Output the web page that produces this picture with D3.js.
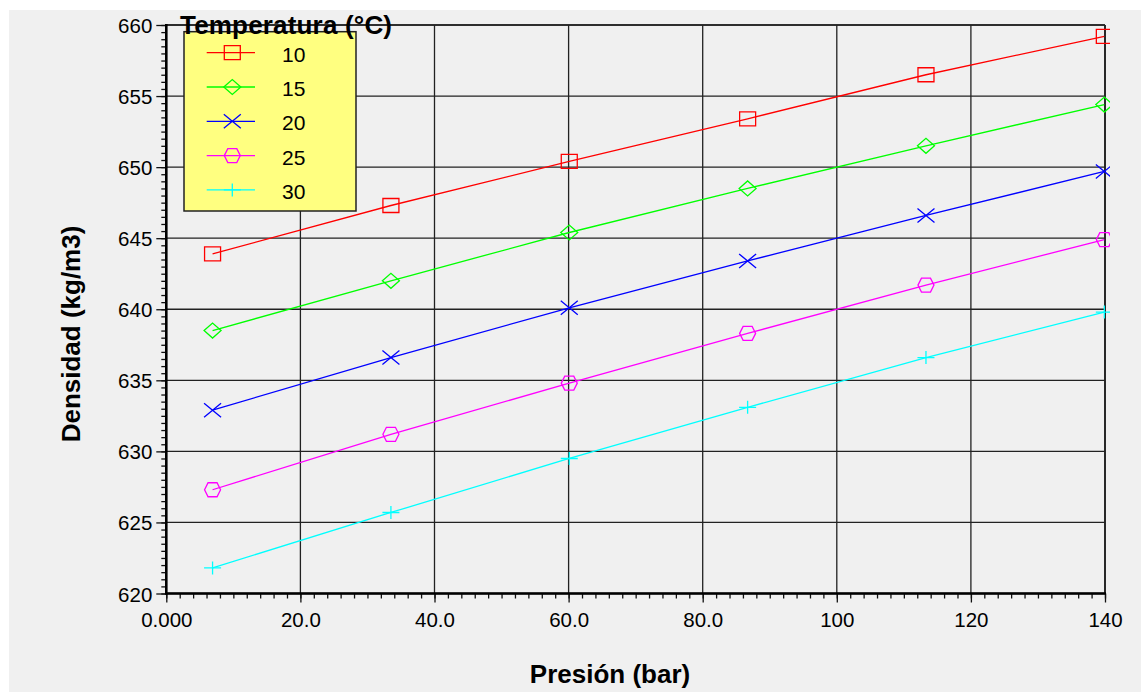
<!DOCTYPE html>
<html>
<head>
<meta charset="utf-8">
<script src="https://cdn.jsdelivr.net/npm/d3@7"></script>
<style>
  html, body { margin: 0; padding: 0; background: #ffffff; }
  svg { display: block; }
  text { font-family: "Liberation Sans", Arial, sans-serif; fill: #000; }
</style>
</head>
<body>
<svg id="chart" width="1141" height="692"></svg>
<script>
// Pressure points (bar)
const pressures = [6.9, 33.5, 60.1, 86.7, 113.3, 139.9];

// Temperature series (°C) and density values (kg/m3)
const temperatures = ["10", "15", "20", "25", "30"];
const dens10 = [643.9, 647.3, 650.4, 653.4, 656.5, 659.2];
const dens15 = [638.5, 642.0, 645.4, 648.5, 651.5, 654.4];
const dens20 = [632.9, 636.6, 640.1, 643.4, 646.6, 649.7];
const dens25 = [627.3, 631.2, 634.8, 638.3, 641.7, 644.9];
const dens30 = [621.8, 625.7, 629.5, 633.1, 636.6, 639.8];

// Axis ticks
const xTicks = [0, 20, 40, 60, 80, 100, 120, 140];
const xTickLabels = ["0.000", "20.0", "40.0", "60.0", "80.0", "100", "120", "140"];
const yTicks = [620, 625, 630, 635, 640, 645, 650, 655, 660];
const yTickLabels = ["620", "625", "630", "635", "640", "645", "650", "655", "660"];

const seriesValues = [dens10, dens15, dens20, dens25, dens30];
const colors = ["#ff0000", "#00ff00", "#0000ff", "#ff00ff", "#00ffff"];
const symbols = ["square", "diamond", "cross", "hexagon", "plus"];

const series = temperatures.map((t, i) => ({
  name: t,
  color: colors[i],
  symbol: symbols[i],
  points: pressures.map((p, j) => ({ x: p, y: seriesValues[i][j] }))
}));

const svg = d3.select("#chart");

// panel background
svg.append("rect").attr("x", 9).attr("y", 10).attr("width", 1132).attr("height", 682)
  .attr("fill", "#f0f0f0");

const x = d3.scaleLinear().domain([0, 140]).range([166.3, 1105]);
const y = d3.scaleLinear().domain([620, 660]).range([593.5, 25]);

const [x0, x1] = x.range();
const [y0, y1] = y.range();

// marker drawing helpers
function markerPath(type) {
  switch (type) {
    case "square": return "M-8,-7H8V7H-8Z";
    case "diamond": return "M-8.5,0L0,-7.5L8.5,0L0,7.5Z";
    case "cross": return "M-8.5,-7L8.5,7M-8.5,7L8.5,-7";
    case "hexagon": return "M-8,0L-4.5,-7H4.5L8,0L4.5,7H-4.5Z";
    case "plus": return "M-8.5,0H8.5M0,-6.5V6.5";
  }
}

// grid
const grid = svg.append("g");
grid.selectAll("line.vx").data(xTicks).join("line")
  .attr("x1", d => x(d)).attr("x2", d => x(d)).attr("y1", y1).attr("y2", y0)
  .attr("stroke", "#222").attr("stroke-width", 1.3);
grid.selectAll("line.hy").data(yTicks).join("line")
  .attr("x1", x0).attr("x2", x1).attr("y1", d => y(d)).attr("y2", d => y(d))
  .attr("stroke", "#222").attr("stroke-width", 1.3);

// axes: minor + major ticks
const xMinor = d3.range(0, 140.01, 2);
const yMinor = d3.range(620, 660.01, 0.5);

const xAxisMinor = d3.axisBottom(x).tickValues(xMinor).tickSize(5).tickFormat("");
const xAxisMajor = d3.axisBottom(x).tickValues(xTicks).tickSize(9)
  .tickFormat((d, i) => xTickLabels[i]).tickPadding(6);
const yAxisMinor = d3.axisLeft(y).tickValues(yMinor).tickSize(5).tickFormat("");
const yAxisMajor = d3.axisLeft(y).tickValues(yTicks).tickSize(10)
  .tickFormat((d, i) => yTickLabels[i]).tickPadding(4);

function styleAxis(g) {
  g.select(".domain").remove();
  g.selectAll(".tick line").attr("stroke", "#111").attr("stroke-width", 1.3);
  g.selectAll(".tick text").attr("font-size", "20.5px").attr("fill", "#111")
    .style("font-family", '"Liberation Sans", Arial, sans-serif');
}

svg.append("g").attr("transform", `translate(0,${y0})`).call(xAxisMinor).call(styleAxis);
const gx = svg.append("g").attr("transform", `translate(0,${y0})`).call(xAxisMajor).call(styleAxis);
gx.selectAll(".tick text").attr("dy", null).attr("y", 33);
svg.append("g").attr("transform", `translate(${x0},0)`).call(yAxisMinor).call(styleAxis);
const gy = svg.append("g").attr("transform", `translate(${x0},0)`).call(yAxisMajor).call(styleAxis);
gy.selectAll(".tick text").attr("dy", null).attr("y", 7.5).attr("x", -14);

// frame
svg.append("line").attr("x1", x0).attr("x2", x1).attr("y1", y1).attr("y2", y1)
  .attr("stroke", "#222").attr("stroke-width", 1.4);
svg.append("line").attr("x1", x1).attr("x2", x1).attr("y1", y1).attr("y2", y0)
  .attr("stroke", "#222").attr("stroke-width", 1.8);
svg.append("line").attr("x1", x0 - 1).attr("x2", x1 + 1).attr("y1", y0).attr("y2", y0)
  .attr("stroke", "#000").attr("stroke-width", 2.6);
svg.append("line").attr("x1", x0).attr("x2", x0).attr("y1", y1 - 1).attr("y2", y0 + 1)
  .attr("stroke", "#000").attr("stroke-width", 2.6);

// clip for data marks
svg.append("defs").append("clipPath").attr("id", "plotclip")
  .append("rect").attr("x", x0).attr("y", y1 - 10).attr("width", x1 - x0 + 5).attr("height", y0 - y1 + 10);

const line = d3.line().x(d => x(d.x)).y(d => y(d.y));
const data = svg.append("g").attr("clip-path", "url(#plotclip)");

series.forEach(s => {
  data.append("path").datum(s.points).attr("d", line)
    .attr("fill", "none").attr("stroke", s.color).attr("stroke-width", 1.3);
  data.selectAll(null).data(s.points).join("path")
    .attr("transform", d => `translate(${x(d.x)},${y(d.y)})`)
    .attr("d", markerPath(s.symbol))
    .attr("fill", "none").attr("stroke", s.color).attr("stroke-width", 1.3);
});

// legend
const legend = svg.append("g");
legend.append("rect").attr("x", 184).attr("y", 31.7).attr("width", 172).attr("height", 179.3)
  .attr("fill", "#ffff80").attr("stroke", "#222").attr("stroke-width", 1.5);
series.forEach((s, i) => {
  const cy = 52.7 + i * 34.3;
  legend.append("line").attr("x1", 206.7).attr("x2", 255).attr("y1", cy).attr("y2", cy)
    .attr("stroke", s.color).attr("stroke-width", 1.3);
  legend.append("path").attr("transform", `translate(232.3,${cy})`)
    .attr("d", markerPath(s.symbol))
    .attr("fill", "none").attr("stroke", s.color).attr("stroke-width", 1.3);
  legend.append("text").attr("x", 282).attr("y", cy + 9)
    .attr("font-size", "21px").attr("fill", "#111").text(s.name);
});
legend.append("text").attr("x", 180).attr("y", 33.5)
  .attr("font-size", "26px").attr("font-weight", "bold").attr("textLength", 212)
  .text("Temperatura (°C)");

// axis titles
svg.append("text").attr("x", 610).attr("y", 683).attr("text-anchor", "middle")
  .attr("font-size", "26px").attr("font-weight", "bold").text("Presión (bar)");
svg.append("text").attr("transform", "translate(80,334) rotate(-90)").attr("text-anchor", "middle")
  .attr("font-size", "26px").attr("font-weight", "bold").text("Densidad (kg/m3)");
</script>
</body>
</html>
